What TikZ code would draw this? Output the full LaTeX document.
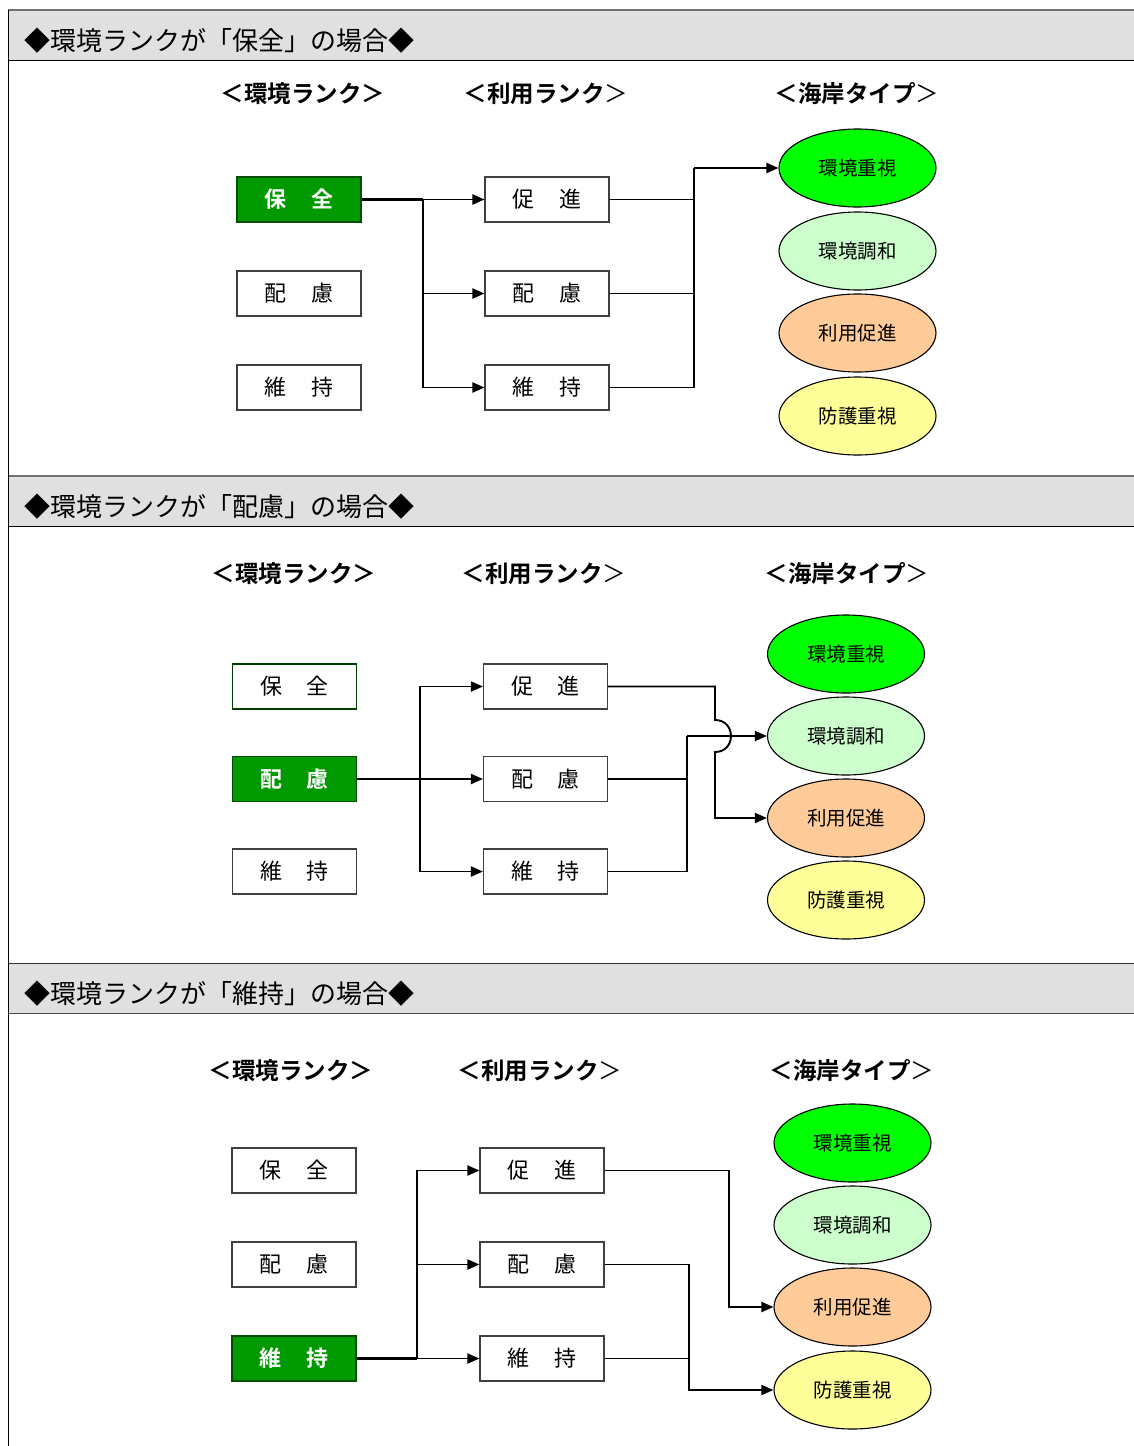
\documentclass[tikz,border=0pt]{standalone}
\usepackage{fontspec}
\newfontfamily\jp{Noto Sans CJK JP}[BoldFont={Noto Sans CJK JP Bold}]
\usetikzlibrary{arrows.meta,shapes.geometric}
\definecolor{band}{HTML}{E0E0E0}
\definecolor{selgreen}{HTML}{009900}
\definecolor{tA}{HTML}{00FF00}
\definecolor{tB}{HTML}{CCFFCC}
\definecolor{tC}{HTML}{FFCC99}
\definecolor{tD}{HTML}{FFFF99}
\newcommand{\pr}[2]{#1\hspace{25pt}#2}
\begin{document}
\begin{tikzpicture}[x=1pt,y=-1pt,
 rbox/.style={draw=black!75, line width=1.1pt, fill=white, minimum width=124pt, minimum height=45pt, inner sep=0pt, font=\jp\fontsize{22}{22}\selectfont},
 selbox/.style={rbox, draw=black!50!selgreen, fill=selgreen, text=white, font=\jp\bfseries\fontsize{22}{22}\selectfont},
 typ/.style={ellipse, draw, line width=1.1pt, minimum width=157pt, minimum height=78pt, inner sep=0pt, font=\jp\fontsize{19.5}{19.5}\selectfont},
 head/.style={inner sep=0pt, font=\jp\bfseries\fontsize{23.5}{23.5}\selectfont},
 ttl/.style={anchor=west, inner sep=0pt, font=\jp\fontsize{26}{26}\selectfont},
 conn/.style={line width=1.9pt},
 trunk/.style={line width=2.8pt},
 arr/.style={conn, -{Triangle[length=12pt,width=10pt]}},
]
\useasboundingbox (0,0) rectangle (1134,1446);
\fill[white] (0,0) rectangle (1134,1446);
% bands
\fill[band] (8,10) rectangle (1134,60);
\fill[band] (8,476) rectangle (1134,526);
\fill[band] (8,963) rectangle (1134,1013);
\draw[black!55, line width=1.2pt] (8,10) -- (1134,10);
\draw[black!55, line width=1.2pt] (8,476) -- (1134,476);
\draw[black!80, line width=1pt] (8,963) -- (1134,963);
\draw[black, line width=1pt] (8,60) -- (1134,60);
\draw[black, line width=1pt] (8,526) -- (1134,526);
\draw[black!70, line width=1pt] (8,1013) -- (1134,1013);
\draw[black, line width=1pt] (8,10) -- (8,1446);
\node[ttl] (h1) at (24,41) {◆環境ランクが「保全」の場合◆};
\node[ttl] (h2) at (24,507) {◆環境ランクが「配慮」の場合◆};
\node[ttl] (h3) at (24,994) {◆環境ランクが「維持」の場合◆};

% ===== Section 1 =====
\node[head] (s1hb) at (546,94) {＜利用ランク\mdseries ＞};
\node[head] (s1ha) at (303,94) {＜環境ランク＞};
\node[head] (s1hc) at (857,94) {＜海岸タイプ\mdseries ＞};
\node[selbox] (s1e1) at (299,199.5) {\pr{保}{全}};
\node[rbox] (s1e2) at (299,293.5) {\pr{配}{慮}};
\node[rbox] (s1e3) at (299,387.5) {\pr{維}{持}};
\node[rbox] (s1u1) at (547,199.5) {\pr{促}{進}};
\node[rbox] (s1u2) at (547,293.5) {\pr{配}{慮}};
\node[rbox] (s1u3) at (547,387.5) {\pr{維}{持}};
\node[typ, fill=tA] (s1t1) at (857.5,168) {環境重視};
\node[typ, fill=tB] (s1t2) at (857.5,251) {環境調和};
\node[typ, fill=tC] (s1t3) at (857.5,333) {利用促進};
\node[typ, fill=tD] (s1t4) at (857.5,416) {防護重視};
\coordinate (s1b) at (423,199.5);
\coordinate (s1m) at (694,168);
\draw[trunk] (s1e1.east) -- (s1b);
\draw[arr] (s1b) -- (s1u1.west);
\draw[arr] (s1b) |- (s1u2.west);
\draw[arr] (s1b) |- (s1u3.west);
\draw[conn] (s1u1.east) -| (s1m);
\draw[conn] (s1u2.east) -| (s1m);
\draw[conn] (s1u3.east) -| (s1m);
\draw[arr] (s1m) -- (s1t1.west);

% ===== Section 2 =====
\node[head] (s2ha) at (294,574) {＜環境ランク＞};
\node[head] (s2hb) at (544,574) {＜利用ランク\mdseries ＞};
\node[head] (s2hc) at (847,574) {＜海岸タイプ\mdseries ＞};
\node[rbox, draw=black!60!selgreen] (s2e1) at (294.5,686.5) {\pr{保}{全}};
\node[selbox] (s2e2) at (294.5,779) {\pr{配}{慮}};
\node[rbox] (s2e3) at (294.5,871.5) {\pr{維}{持}};
\node[rbox] (s2u1) at (545.5,686.5) {\pr{促}{進}};
\node[rbox] (s2u2) at (545.5,779) {\pr{配}{慮}};
\node[rbox] (s2u3) at (545.5,871.5) {\pr{維}{持}};
\node[typ, fill=tA] (s2t1) at (846,654) {環境重視};
\node[typ, fill=tB] (s2t2) at (846,736) {環境調和};
\node[typ, fill=tC] (s2t3) at (846,818) {利用促進};
\node[typ, fill=tD] (s2t4) at (846,900) {防護重視};
\coordinate (s2b) at (420,779);
\coordinate (s2m) at (687,736);
\coordinate (s2h1) at (715,720);
\coordinate (s2h2) at (715,752);
\draw[trunk] (s2e2.east) -- (s2b);
\draw[arr] (s2b) |- (s2u1.west);
\draw[arr] (s2b) -- (s2u2.west);
\draw[arr] (s2b) |- (s2u3.west);
\draw[conn] (s2u2.east) -| (s2m);
\draw[conn] (s2u3.east) -| (s2m);
\draw[arr] (s2m) -- (s2t2.west);
\draw[arr] (s2u1.east) -| (s2h1) .. controls (736.3,720) and (736.3,752) .. (s2h2) |- (s2t3.west);

% ===== Section 3 =====
\node[head] (s3ha) at (291,1071) {＜環境ランク＞};
\node[head] (s3hb) at (540,1071) {＜利用ランク\mdseries ＞};
\node[head] (s3hc) at (852,1071) {＜海岸タイプ\mdseries ＞};
\node[rbox] (s3e1) at (294,1170.5) {\pr{保}{全}};
\node[rbox] (s3e2) at (294,1264.5) {\pr{配}{慮}};
\node[selbox] (s3e3) at (294,1358.5) {\pr{維}{持}};
\node[rbox] (s3u1) at (542,1170.5) {\pr{促}{進}};
\node[rbox] (s3u2) at (542,1264.5) {\pr{配}{慮}};
\node[rbox] (s3u3) at (542,1358.5) {\pr{維}{持}};
\node[typ, fill=tA] (s3t1) at (852.5,1143) {環境重視};
\node[typ, fill=tB] (s3t2) at (852.5,1225) {環境調和};
\node[typ, fill=tC] (s3t3) at (852.5,1307) {利用促進};
\node[typ, fill=tD] (s3t4) at (852.5,1390) {防護重視};
\coordinate (s3b) at (417,1358.5);
\coordinate (s3p) at (729,1307);
\coordinate (s3q) at (689,1390);
\draw[trunk] (s3e3.east) -- (s3b);
\draw[arr] (s3b) |- (s3u1.west);
\draw[arr] (s3b) |- (s3u2.west);
\draw[arr] (s3b) -- (s3u3.west);
\draw[arr] (s3u1.east) -| (s3p) -- (s3t3.west);
\draw[conn] (s3u3.east) -| (s3q);
\draw[arr] (s3u2.east) -| (s3q) -- (s3t4.west);
\end{tikzpicture}
\end{document}
